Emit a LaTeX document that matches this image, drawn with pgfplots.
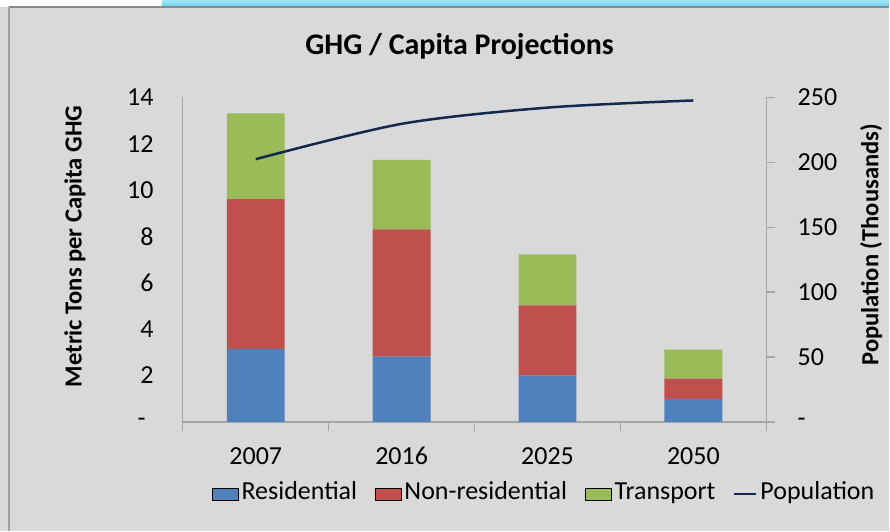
\documentclass[border=0pt]{standalone}
\usepackage{pgfplots}
\pgfplotsset{compat=1.18}
\usepackage{fontspec}
\setmainfont{Carlito}
\definecolor{resblue}{HTML}{4F81BD}
\definecolor{nonred}{HTML}{C0504D}
\definecolor{trgreen}{HTML}{9BBB59}
\definecolor{popnavy}{HTML}{13294B}
\definecolor{axgray}{HTML}{A6A6A6}
\definecolor{bg}{HTML}{D9D9D9}
\pgfplotsset{
  sqleg/.style={legend image code/.code={\fill[##1] (0pt,-3pt) rectangle (13pt,3pt);}},
  lnleg/.style={legend image code/.code={\draw[##1] (0pt,0pt) -- (11pt,0pt);}},
}
\begin{document}
\begin{tikzpicture}
% background and frame
\fill[bg] (0,0) rectangle (445pt,265.5pt);
\fill[white] (0,262pt) rectangle (81pt,265.5pt);
\shade[top color={rgb,255:red,160;green,230;blue,252}, bottom color={rgb,255:red,108;green,207;blue,245}] (81pt,262.3pt) rectangle (445pt,265.5pt);
\draw[color={rgb,255:red,138;green,138;blue,138}, line width=0.8pt] (4.3pt,262pt) -- (445pt,262pt);
\draw[color={rgb,255:red,160;green,160;blue,160}, line width=1pt] (4.5pt,0) -- (4.5pt,262pt);
\path[use as bounding box] (0,0) rectangle (445pt,265.5pt);
% title and axis labels
\node[font=\bfseries\fontsize{15}{18}\selectfont] at (230pt,242pt) {GHG / Capita Projections};
\node[rotate=90, font=\bfseries\fontsize{12.3}{15}\selectfont] at (37.5pt,142.2pt) {Metric Tons per Capita GHG};
\node[rotate=90, font=\bfseries\fontsize{12.3}{15}\selectfont] at (436pt,143pt) {Population (Thousands)};

\begin{axis}[
  at={(91.5pt,54.35pt)}, anchor=south west,
  scale only axis, width=292pt, height=162.5pt,
  xmin=-0.5, xmax=3.5, ymin=0, ymax=14,
  axis x line*=bottom, axis y line*=left,
  axis line style={draw=axgray, line width=0.6pt},
  tick align=outside,
  xtick={-0.5,0.5,1.5,2.5,3.5}, xticklabels={},
  xtick style={draw=axgray, line width=0.6pt}, major tick length=4.5pt,
  extra x ticks={0,1,2,3}, extra x tick labels={2007,2016,2025,2050},
  extra x tick style={major tick length=0pt, xticklabel style={anchor=north, inner sep=0pt, yshift=-12.5pt}},
  ytick={0,2,4,6,8,10,12,14},
  yticklabels={-\hspace*{4pt},2,4,6,8,10,12,14},
  ytick style={draw=none},
  yticklabel style={anchor=east, inner sep=0pt, xshift=-10pt},
  ticklabel style={font=\fontsize{13}{15}\selectfont},
  ybar stacked, bar width=29pt,
]
\addplot[fill=resblue, draw=none] coordinates {(0,3.15) (1,2.82) (2,2.0) (3,0.99)};
\addplot[fill=nonred, draw=none] coordinates {(0,6.46) (1,5.48) (2,3.02) (3,0.88)};
\addplot[fill=trgreen, draw=none] coordinates {(0,3.69) (1,3.0) (2,2.2) (3,1.25)};
\end{axis}

\begin{axis}[
  at={(91.5pt,54.35pt)}, anchor=south west,
  scale only axis, width=292pt, height=162.5pt,
  xmin=-0.5, xmax=3.5, ymin=0, ymax=250,
  axis x line=none, axis y line*=right,
  axis line style={draw=axgray, line width=0.6pt},
  tick align=outside, major tick length=4.5pt,
  ytick={0,50,100,150,200,250},
  yticklabels={-,50,100,150,200,250},
  ytick style={draw=axgray, line width=0.6pt},
  yticklabel style={anchor=west, inner sep=0pt, xshift=11pt},
  ticklabel style={font=\fontsize{13}{15}\selectfont},
  legend columns=4,
  legend style={at={(0.62,-0.222)}, anchor=center, draw=none, fill=none,
    font=\fontsize{13}{15}\selectfont, nodes={inner sep=1.4pt, text height=1.6ex, text depth=0.45ex},
    /tikz/every even column/.append style={column sep=7.5pt}},
]
\addlegendimage{sqleg, fill=resblue}
\addlegendimage{sqleg, fill=nonred}
\addlegendimage{sqleg, fill=trgreen}
\addplot[color=popnavy, line width=1.25pt, smooth, tension=0.5, lnleg] coordinates {(0,202.3) (1,229.5) (2,242) (3,247.5)};
\legend{Residential,Non-residential,Transport,Population}
\end{axis}
\end{tikzpicture}
\end{document}
